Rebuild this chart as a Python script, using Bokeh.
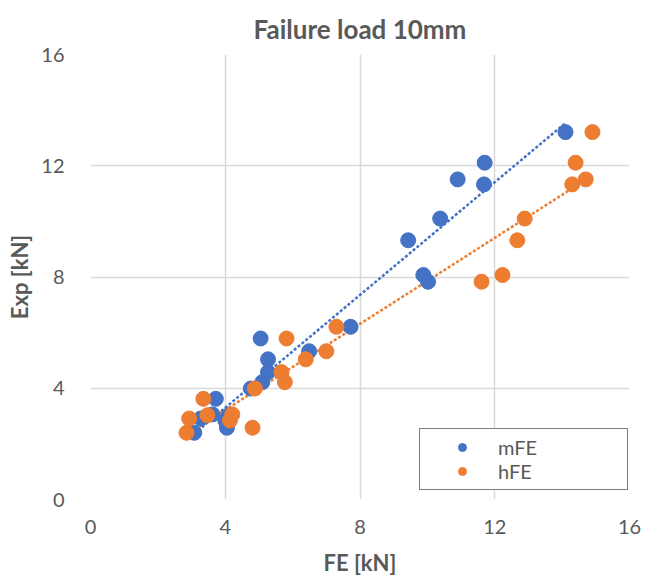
import numpy as np
from bokeh.plotting import figure
from bokeh.models import Range1d, FixedTicker, Legend, LegendItem, Title
from bokeh.embed import file_html
from bokeh.resources import INLINE

# mFE series
m_x = [3.08, 3.27, 3.62, 3.72, 4.05, 4.00, 4.10, 4.76, 5.10, 5.27, 5.27, 5.05, 6.49, 7.72,
       9.43, 9.88, 10.02, 10.38, 10.90, 11.68, 11.70, 14.10]
m_y = [2.40, 2.91, 3.06, 3.62, 2.58, 2.84, 3.03, 3.99, 4.22, 4.58, 5.04, 5.79, 5.33, 6.21,
       9.32, 8.07, 7.83, 10.10, 11.51, 11.33, 12.11, 13.21]
# hFE series
h_x = [2.85, 2.93, 4.21, 3.35, 4.81, 4.14, 3.47, 4.88, 5.77, 5.67, 6.39, 5.82, 7.00, 7.30,
       12.67, 12.23, 11.61, 12.89, 14.70, 14.30, 14.40, 14.90]
h_y = [2.40, 2.91, 3.06, 3.62, 2.58, 2.84, 3.03, 3.99, 4.22, 4.58, 5.04, 5.79, 5.33, 6.21,
       9.32, 8.07, 7.83, 10.10, 11.51, 11.33, 12.11, 13.21]

ticks = [0, 4, 8, 12, 16]
BLUE = "#4472C4"
ORANGE = "#ED7D31"
GRAY = "#595959"
FONT = "Lato"
FW, FH = 539, 445

p = figure(frame_width=FW, frame_height=FH, output_backend="svg", toolbar_location=None,
           x_range=Range1d(0, 16), y_range=Range1d(0, 16),
           min_border_left=90, min_border_right=22, min_border_top=47, min_border_bottom=0)
p.outline_line_color = None

t = Title(text="Failure load 10mm", align="center", text_font=FONT, text_font_size="26px",
          text_font_style="bold", text_color=GRAY, offset=6, standoff=20)
p.add_layout(t, "above")

for ax in (p.xaxis, p.yaxis):
    ax.ticker = FixedTicker(ticks=ticks)
    ax.major_tick_line_color = None
    ax.minor_tick_line_color = None
    ax.axis_line_color = None
    ax.major_label_text_font = FONT
    ax.major_label_text_font_size = "20px"
    ax.major_label_text_color = GRAY
    ax.axis_label_text_font = FONT
    ax.axis_label_text_font_size = "22px"
    ax.axis_label_text_font_style = "bold"
    ax.axis_label_text_color = GRAY

p.xaxis.axis_label = "FE [kN]"
p.yaxis.axis_label = "Exp [kN]"
p.xaxis.major_label_standoff = 14
p.yaxis.major_label_standoff = 20
p.xaxis.axis_label_standoff = 12
p.yaxis.axis_label_standoff = 5

for g in (p.xgrid, p.ygrid):
    g.ticker = FixedTicker(ticks=ticks)
    g.grid_line_color = "#d9d9d9"
    g.grid_line_width = 1.5

# trendlines (linear least-squares fit, like Excel)
def trend(xs, ys):
    xs = np.array(xs); ys = np.array(ys)
    k, b = np.polyfit(xs, ys, 1)
    x0, x1 = xs.min(), xs.max()
    return [x0, x1], [k * x0 + b, k * x1 + b]

tx, ty = trend(m_x, m_y)
p.line(tx, ty, line_color=BLUE, line_width=2.5, line_dash="3 2")
tx2, ty2 = trend(h_x, h_y)
p.line(tx2, ty2, line_color=ORANGE, line_width=2.5, line_dash="3 2")

rm = p.scatter(m_x, m_y, size=15, color=BLUE, line_color=BLUE)
rh = p.scatter(h_x, h_y, size=15, color=ORANGE, line_color=ORANGE)

legend = Legend(items=[LegendItem(label="mFE", renderers=[rm]),
                       LegendItem(label="hFE", renderers=[rh])],
                location=(329, 9), margin=0, padding=6, spacing=0,
                glyph_width=72, glyph_height=20, label_standoff=0, label_width=123,
                label_text_font=FONT, label_text_font_size="20px", label_text_color=GRAY,
                border_line_color="black", border_line_width=1.5,
                background_fill_color="white", background_fill_alpha=1.0)
p.add_layout(legend)

open("out.html", "w").write(file_html(p, INLINE))
